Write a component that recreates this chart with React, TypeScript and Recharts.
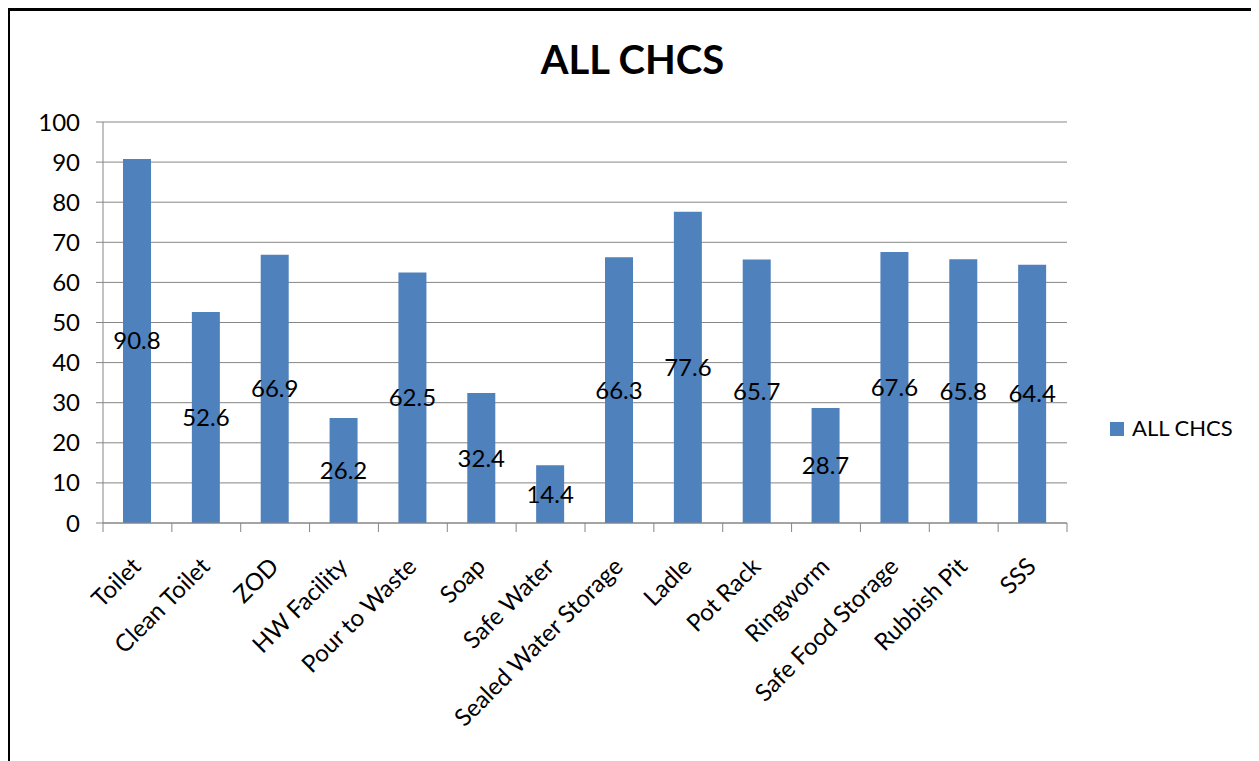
import { BarChart, Bar, XAxis, YAxis, CartesianGrid, Legend, LabelList } from "recharts";

const categories = [
  "Toilet",
  "Clean Toilet",
  "ZOD",
  "HW Facility",
  "Pour to Waste",
  "Soap",
  "Safe Water",
  "Sealed Water Storage",
  "Ladle",
  "Pot Rack",
  "Ringworm",
  "Safe Food Storage",
  "Rubbish Pit",
  "SSS",
];
const allChcs = [90.8, 52.6, 66.9, 26.2, 62.5, 32.4, 14.4, 66.3, 77.6, 65.7, 28.7, 67.6, 65.8, 64.4];
const yTicks = [0, 10, 20, 30, 40, 50, 60, 70, 80, 90, 100];
const seriesName = "ALL CHCS";
const title = "ALL CHCS";

const data = categories.map((name, i) => ({ name, value: allChcs[i] }));

const W = 1250;
const H = 753;
const margin = { top: 114, right: 191, left: 35, bottom: 208 };
const plotW = W - margin.left - 60 - margin.right;
const band = plotW / categories.length;
const font = "Lato, 'Liberation Sans', sans-serif";
const gray = "#868686";

function CatTick(props: any) {
  const { x, y, payload, index } = props;
  const last = index === categories.length - 1;
  return (
    <g>
      <line x1={x - band / 2} x2={x - band / 2} y1={y} y2={y + 9} stroke={gray} />
      {last && <line x1={x + band / 2} x2={x + band / 2} y1={y} y2={y + 9} stroke={gray} />}
      <text
        transform={`translate(${x + 5},${y + 45}) rotate(-45)`}
        textAnchor="end"
        fontSize={24}
        fontFamily={font}
        fill="#000"
      >
        {payload.value}
      </text>
    </g>
  );
}

function LegendBox() {
  return (
    <div style={{ position: "relative", width: 150, height: 40, fontFamily: font }}>
      <span style={{ position: "absolute", left: 0, top: 10, width: 14, height: 14, background: "#4F81BD" }} />
      <span style={{ position: "absolute", left: 22, top: 5, fontSize: 22, lineHeight: "22px", color: "#000", whiteSpace: "nowrap" }}>
        {seriesName}
      </span>
    </div>
  );
}

export default function App() {
  return (
    <div style={{ position: "relative", width: W, height: H }}>
      <BarChart width={W} height={H} data={data} margin={margin}>
        <CartesianGrid horizontal vertical={false} stroke={gray} />
        <XAxis
          dataKey="name"
          interval={0}
          tickSize={0}
          tickMargin={0}
          tickLine={false}
          axisLine={{ stroke: gray }}
          height={30}
          tick={(p: any) => <CatTick {...p} />}
        />
        <YAxis
          domain={[0, 100]}
          ticks={yTicks}
          width={60}
          tickSize={7}
          tickMargin={16}
          axisLine={{ stroke: gray }}
          tickLine={{ stroke: gray }}
          tick={{ fontSize: 24, fontFamily: font, fill: "#000" }}
        />
        <Legend
          layout="vertical"
          align="center"
          verticalAlign="middle"
          wrapperStyle={{ position: "absolute", left: 1102, top: 404, width: 150, height: 40 }}
          content={() => <LegendBox />}
        />
        <Bar dataKey="value" name={seriesName} fill="#4F81BD" barSize={28} isAnimationActive={false}>
          <LabelList
            dataKey="value"
            position="center"
            fontSize={24}
            fontFamily={font}
            fill="#000"
            formatter={(v: any) => Number(v).toFixed(1)}
          />
        </Bar>
      </BarChart>
      <div
        style={{
          position: "absolute",
          left: 0,
          top: 31,
          width: W - 1,
          textAlign: "center",
          fontFamily: font,
          fontWeight: 700,
          fontSize: 40,
          lineHeight: "40px",
          color: "#000",
        }}
      >
        {title}
      </div>
      <div
        style={{
          position: "absolute",
          left: -1,
          top: 0,
          width: 1247,
          height: 770,
          borderTop: "3px solid #000",
          borderLeft: "3px solid #000",
          borderRight: "2px solid #777",
          pointerEvents: "none",
        }}
      />
    </div>
  );
}
